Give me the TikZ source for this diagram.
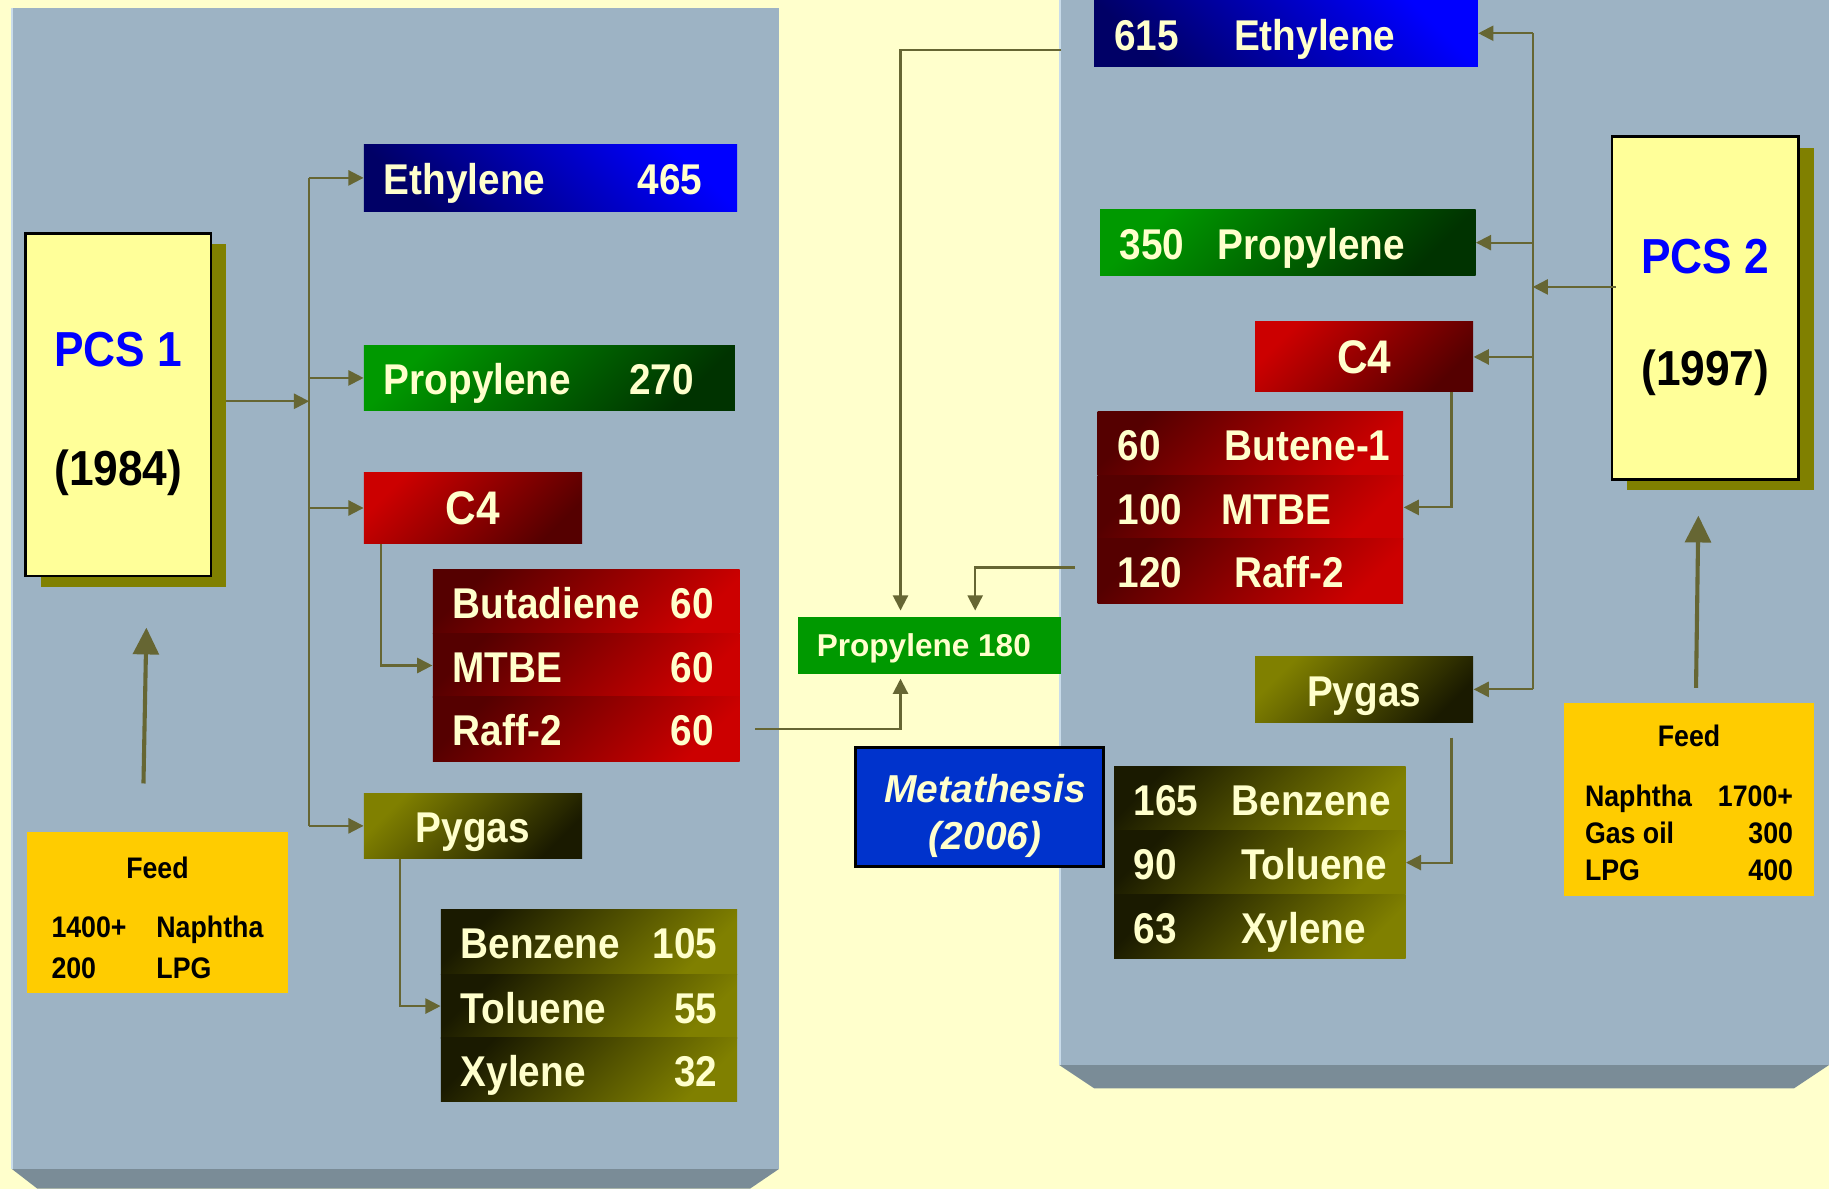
\documentclass[tikz,border=0pt]{standalone}
\usepackage{fontspec}
\setmainfont{Liberation Sans}[FakeStretch=0.9]
\newfontfamily\widefont{Liberation Sans}
\usetikzlibrary{arrows.meta,shadows}
\definecolor{paper}{HTML}{FFFFCC}
\definecolor{slate}{HTML}{9DB3C4}
\definecolor{slatedk}{HTML}{7A8C97}
\definecolor{slatelt}{HTML}{C9DCEA}
\definecolor{linkol}{HTML}{666633}
\definecolor{cream}{HTML}{FFFFCC}
\definecolor{pcsfill}{HTML}{FFFF99}
\definecolor{olv}{HTML}{808000}
\definecolor{olvdk}{HTML}{1A1A00}
\definecolor{amber}{HTML}{FFCC00}
\definecolor{pcsblue}{HTML}{0000FF}
\definecolor{bluelo}{HTML}{000066}
\definecolor{greenhi}{HTML}{009900}
\definecolor{greenlo}{HTML}{003300}
\definecolor{redhi}{HTML}{CC0000}
\definecolor{redlo}{HTML}{550000}
\definecolor{metblue}{HTML}{0033CC}
\tikzset{bar/.style={inner xsep=0.34cm,inner ysep=0pt,text height=0.84cm,text depth=0.26cm,align=left,text=cream,font=\fontsize{21}{25}\selectfont\bfseries},
hdr/.style={bar,align=center,text width=3.06cm},
blubar/.style={top color=pcsblue,bottom color=bluelo,shading angle=-45},
grnbar/.style={top color=greenhi,bottom color=greenlo,shading angle=45},
redbar/.style={top color=redhi,bottom color=redlo,shading angle=45},
redrow/.style={top color=redlo,bottom color=redhi,shading angle=45},
olvbar/.style={top color=olv,bottom color=olvdk,shading angle=45},
olvrow/.style={top color=olvdk,bottom color=olv,shading angle=45},
pcs/.style={draw=black,line width=1.2pt,fill=pcsfill,minimum width=3.2cm,minimum height=5.88cm,align=center,general shadow={fill=olv,shadow xshift=0.26cm,shadow yshift=-0.19cm}},
feed/.style={fill=amber,inner sep=0pt,align=center},
link/.style={draw=linkol,line width=1pt},
arr/.style={link,-{Triangle[length=0.26cm,width=0.26cm]}},
bigarr/.style={draw=linkol,line width=2pt,-{Triangle[length=0.46cm,width=0.44cm]}}}

\begin{document}
\begin{tikzpicture}[x=0.02cm,y=-0.02cm]
\useasboundingbox (0,0) rectangle (1568,1019);
\fill[paper] (0,0) rectangle (1568,1019);
% panels
\fill[slatedk] (10,1002) -- (668,1002) -- (643,1019) -- (32,1019) -- cycle;
\fill[slate] (10,7) rectangle (668,1002);\draw[slatelt,line width=1pt] (10.5,7) -- (10.5,1002);
\fill[slatedk] (908,913) -- (1568,913) -- (1538,933) -- (938,933) -- cycle;
\fill[slate] (908,0) rectangle (1568,913);\draw[slatelt,line width=1pt] (908.5,0) -- (908.5,913);
% PCS 1
\node[pcs,minimum width=3.18cm,font=\fontsize{24}{58}\selectfont\bfseries] (pcs1) at (101.5,347) {\rule{0pt}{26pt}{\color{pcsblue}PCS 1}\\(1984)};
\node[feed,minimum width=4.48cm,minimum height=2.76cm,font=\fontsize{14.5}{20}\selectfont\bfseries] (feed1) at (135,782) {\rule{0pt}{22pt}Feed\\[9pt]\begin{tabular}[t]{@{}p{1.8cm}@{}l@{}}1400+ & Naphtha\\200 & LPG\end{tabular}};
\node[bar,blubar,text width=5.72cm,minimum height=1.14cm] (eth1) at (472,152.5) {Ethylene\hfill 465\hspace*{0.26cm}};
\node[bar,grnbar,text width=5.68cm,minimum height=1.12cm] (pro1) at (471,324) {Propylene\hfill 270\hspace*{0.36cm}};
\node[hdr,redbar,minimum height=1.22cm,font=\fontsize{23}{27}\selectfont\bfseries] (c41) at (405.5,435.5) {C4};
\foreach \n/\y/\a/\b in {buta1/515.5/Butadiene/60,mtbe1/570.5/MTBE/60,raff1/625/Raff-2/60}
  \node[bar,redrow,text width=4.58cm,minimum height=1.1cm] (\n) at (502.5,\y) {\a\hfill\b\hspace*{0.1cm}};
\node[hdr,olvbar,minimum height=1.12cm] (pyg1) at (405.5,708) {Pygas};
\foreach \n/\y/\a/\b in {benz1/807.5/Benzene/105,tol1/862.5/Toluene/55,xyl1/917/Xylene/32}
  \node[bar,olvrow,text width=4.4cm,minimum height=1.1cm] (\n) at (505,\y) {\a\hfill\b};
% metathesis
\node[fill=greenhi,minimum width=4.52cm,minimum height=0.98cm,text=cream,font=\widefont\fontsize{15.4}{18}\selectfont\bfseries] (p180) at (797,553.5) {\rule{0pt}{14pt}Propylene 180\hspace*{0.2cm}};
\node[draw=black,line width=1.5pt,fill=metblue,minimum width=4.26cm,minimum height=2.04cm,align=center,text=cream,font=\widefont\fontsize{19}{23}\selectfont\bfseries\itshape] (meta) at (839.5,692) {\rule{0pt}{22pt}\hspace*{0.2cm}Metathesis\\\hspace*{0.2cm}(2006)};
% PCS 2
\node[bar,blubar,text width=5.9cm,minimum height=1.14cm] (eth2) at (1102.5,28.5) {\makebox[2.06cm][l]{615}Ethylene};
\node[bar,grnbar,text width=5.76cm,minimum height=1.12cm] (pro2) at (1104,208) {\makebox[1.68cm][l]{350}Propylene};
\node[hdr,redbar,minimum height=1.2cm,font=\fontsize{23}{27}\selectfont\bfseries] (c42) at (1169.5,306) {C4};
\foreach \n/\y/\w/\a/\b in {bute2/380.5/1.84/60/Butene-1,mtbe2/435/1.78/100/MTBE,raff2/489.5/2.0/120/Raff-2}
  \node[bar,redrow,text width=4.56cm,minimum height=1.1cm] (\n) at (1072,\y) {\mbox{\makebox[\w cm][l]{\a}\b}};
\node[hdr,olvbar,minimum height=1.12cm] (pyg2) at (1169.5,591) {Pygas};
\foreach \n/\y/\w/\a/\b in {benz2/684.5/1.68/165/Benzene,tol2/739.5/1.84/90/Toluene,xyl2/794/1.84/63/Xylene}
  \node[bar,olvrow,text width=4.32cm,minimum height=1.1cm] (\n) at (1080,\y) {\makebox[\w cm][l]{\a}\b};
\node[pcs,font=\fontsize{24}{55}\selectfont\bfseries] (pcs2) at (1462,264) {\rule{0pt}{26pt}{\color{pcsblue}PCS 2}\\(1997)};
\node[feed,minimum width=4.28cm,minimum height=3.3cm,font=\fontsize{14.5}{18}\selectfont\bfseries] (feed2) at (1448,685.5) {\rule{0pt}{19pt}Feed\\[11pt]\begin{tabular}[t]{@{}p{2.28cm}@{}r@{}}Naphtha & 1700+\\Gas oil & 300\\LPG & 400\end{tabular}};
% connectors
\coordinate (trunk1) at (265,0);\coordinate (trunk2) at (1314,0);
\draw[link] (trunk1 |- eth1.west) -- (trunk1 |- pyg1.west);
\foreach \n in {eth1,pro1,c41,pyg1}\draw[arr] (trunk1 |- \n.west) -- (\n.west);
\draw[arr] ([shift={(12,-3)}]pcs1.east) coordinate (o1) -- (o1 -| trunk1);
\draw[arr] ([xshift=0.3cm]c41.south west) |- (mtbe1.west);
\draw[arr] ([xshift=0.62cm]pyg1.south west) |- (tol1.west);
\draw[link] (trunk2 |- eth2.east) -- (trunk2 |- pyg2.east);
\foreach \n in {eth2,pro2,c42,pyg2}\draw[arr] (trunk2 |- \n.east) -- (\n.east);
\draw[arr] ([shift={(4,-18)}]pcs2.west) coordinate (o2) -- (o2 -| trunk2);
\draw[arr] ([xshift=-0.38cm]c42.south east) |- (mtbe2.east);
\draw[arr] ([shift={(-19,13)}]pyg2.south east) |- (tol2.east);
\draw[arr,shorten >=2pt] ([xshift=0.26cm]raff1.east) -| ([xshift=-0.5cm]p180.south);
\draw[arr,shorten >=3pt] ([shift={(-28,14.5)}]eth2.west) -| ([xshift=-0.5cm]p180.north);
\draw[arr,shorten >=3pt] ([shift={(-19,-3)}]raff2.west) -| ([xshift=0.78cm]p180.north);
\draw[bigarr] ([shift={(-12,-41)}]feed1.north) -- ([shift={(24,43)}]pcs1.south);
\draw[bigarr] ([shift={(6,-13)}]feed2.north) -- ([shift={(-6,30)}]pcs2.south);
\end{tikzpicture}
\end{document}
